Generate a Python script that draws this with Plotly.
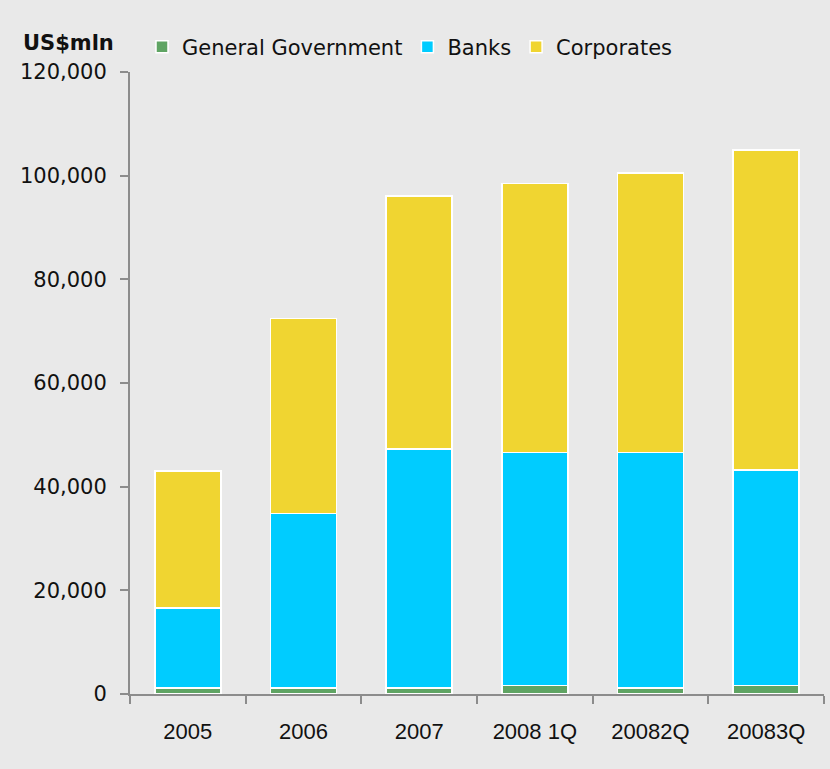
import plotly.graph_objects as go

# External debt by borrower, US$ million
categories = ["2005", "2006", "2007", "2008 1Q", "20082Q", "20083Q"]
general_government = [1200, 1200, 1200, 1600, 1200, 1600]
banks = [15400, 33600, 46100, 45000, 45400, 41600]
corporates = [26400, 37600, 48800, 51900, 53900, 61800]

y_ticks = [0, 20000, 40000, 60000, 80000, 100000, 120000]
y_tick_text = ["0", "20,000", "40,000", "60,000", "80,000", "100,000", "120,000"]

series = [
    ("General Government", general_government, "#5FA463"),
    ("Banks", banks, "#00CCFF"),
    ("Corporates", corporates, "#F0D531"),
]

W, H = 830, 769
ML, MR, MT, MB = 130, 6, 72, 75
bg = "#E9E9E9"
axis_col = "#8C8C8C"

fig = go.Figure()
for name, vals, col in series:
    fig.add_trace(go.Bar(
        x=categories, y=vals, name=name,
        marker=dict(color=col, line=dict(color="white", width=1.5)),
    ))

fig.update_layout(
    width=W, height=H,
    barmode="stack", bargap=0.43,
    paper_bgcolor=bg, plot_bgcolor=bg,
    margin=dict(l=ML, r=MR, t=MT, b=MB, autoexpand=False),
    font=dict(family="DejaVu Sans", size=20, color="#111111"),
    showlegend=True,
    legend=dict(
        orientation="h", x=142 / W, y=1 - 47 / H, xref="container", yref="container",
        yanchor="middle", xanchor="left",
        font=dict(family="DejaVu Sans", size=21),
        bgcolor="rgba(0,0,0,0)", itemwidth=30, traceorder="normal",
    ),
    xaxis=dict(
        showline=True, linecolor=axis_col, linewidth=2,
        ticks="outside", tickson="boundaries", ticklen=8, tickcolor=axis_col, tickwidth=2,
        showgrid=False, zeroline=False, automargin=False,
        tickfont=dict(family="Liberation Sans Narrow, Arial Narrow, sans-serif", size=22, color="#111111"),
        ticklabelstandoff=17,
    ),
    yaxis=dict(
        range=[0, 120000], tickvals=y_ticks, ticktext=y_tick_text,
        showline=True, linecolor=axis_col, linewidth=2,
        ticks="outside", ticklen=8, tickcolor=axis_col, tickwidth=2,
        showgrid=False, zeroline=False, automargin=False,
        tickfont=dict(family="DejaVu Sans", size=21, color="#111111"),
        ticklabelstandoff=9,
    ),
    annotations=[dict(
        text="<b>US$mln</b>",
        x=(68 - ML) / (W - ML - MR), y=1 + (MT - 43) / (H - MT - MB),
        xref="paper", yref="paper", xanchor="center", yanchor="middle",
        showarrow=False, font=dict(family="DejaVu Sans", size=21, color="#111111"),
    )],
)

fig.write_html("out.html")
